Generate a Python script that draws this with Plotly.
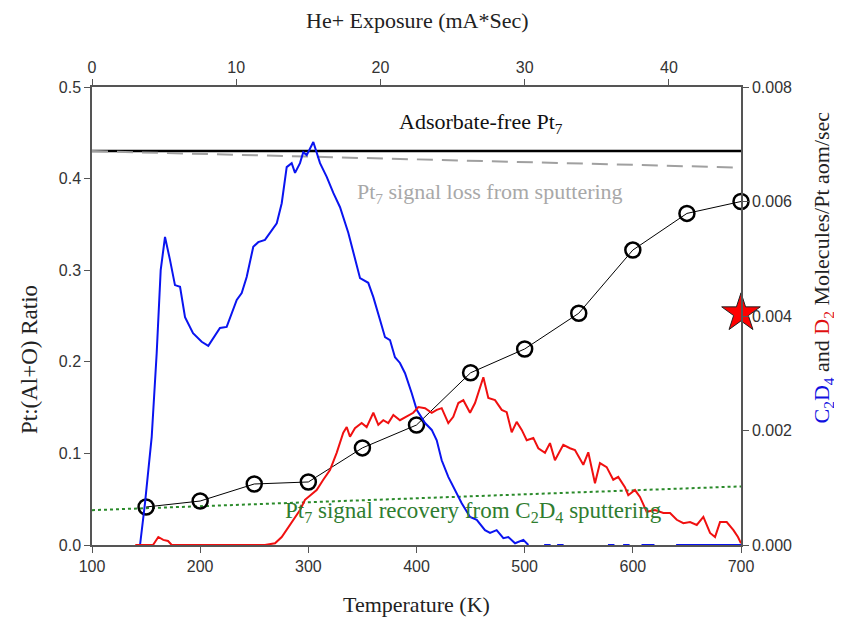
import plotly.graph_objects as go

# Pt:(Al+O) ratio vs temperature (left axis)
temp_pts = [150, 200, 250, 300, 350, 400, 450, 500, 550, 600, 650, 700]
ratio_pts = [0.0415, 0.048, 0.0666, 0.0688, 0.106, 0.131, 0.188, 0.214, 0.253, 0.322, 0.362, 0.375]

# C2D4 desorption signal (right axis, molecules/Pt atom/sec)
blue_t = [144.4, 149.0, 155.2, 159.8, 163.5, 167.5, 172.1, 176.7, 181.4, 186.0, 193.4,
          201.4, 207.5, 213.7, 218.3, 224.5, 229.2, 233.8, 238.4, 243.0, 249.1, 253.7,
          259.9, 266.1, 270.8, 275.4, 280.0, 284.6, 287.7, 292.3, 295.3, 298.5, 304.6,
          310.8, 317.0, 323.1, 329.3, 337.0, 343.1, 347.8, 355.4, 360.1, 366.3, 370.9,
          375.5, 380.1, 384.7, 389.4, 395.6, 400.2, 407.9, 414.1, 418.7, 423.3, 429.4,
          435.6, 441.8, 449.5, 455.7, 463.3, 468.0, 474.1, 480.3, 484.9, 491.1, 498.8,
          503.4, 510, 518, 524, 527, 530, 536, 540, 577, 583, 587, 591, 597, 603, 608,
          620, 625, 640, 700]
blue_v = [0, 0.73, 1.89, 3.35, 4.80, 5.38, 4.98, 4.54, 4.51, 3.98, 3.70,
          3.55, 3.48, 3.67, 3.79, 3.81, 4.05, 4.28, 4.40, 4.68, 5.21, 5.29,
          5.33, 5.50, 5.62, 5.97, 6.60, 6.67, 6.50, 6.67, 6.86, 6.81, 7.04,
          6.67, 6.43, 6.15, 5.90, 5.45, 4.98, 4.66, 4.58, 4.33, 3.93, 3.63,
          3.58, 3.28, 3.18, 3.00, 2.65, 2.36, 2.13, 2.01, 1.83, 1.48, 1.19,
          0.96, 0.73, 0.49, 0.44, 0.26, 0.21, 0.26, 0.12, 0.14, 0.03, 0.09,
          0, None, 0, 0, None, 0, 0, None, 0, 0, None, 0, 0, None, 0,
          0, None, 0, 0]
blue_v = [None if v is None else v * 1e-3 for v in blue_v]

# D2 desorption signal (right axis)
red_t = [140, 156.4, 161.3, 165.9, 170.3, 173.7, 259.9, 269.2, 275.4, 281.5, 287.7,
         292.3, 296.9, 301.5, 307.7, 313.8, 320.0, 326.2, 332.3, 335.5, 338.5, 343.1,
         349.3, 353.9, 360.1, 364.7, 369.3, 373.9, 378.6, 384.7, 390.9, 397.0, 401.7,
         407.9, 414.1, 418.7, 423.3, 429.4, 434.0, 438.7, 443.3, 449.5, 454.1, 458.7,
         461.8, 466.4, 472.6, 478.8, 483.4, 488.0, 492.6, 497.3, 501.9, 508.0, 512.6,
         518.8, 523.4, 528.0, 535.7, 541.9, 546.5, 554.2, 558.8, 565.0, 569.6, 575.8,
         581.9, 586.5, 592.7, 595.8, 602.0, 606.6, 612.8, 620.5, 628.2, 634.4, 640.6,
         646.7, 652.9, 659.1, 665.2, 671.4, 676.0, 680.6, 686.8, 693.0, 697.2, 700]
red_v = [0, 0, 0.14, 0.09, 0.07, 0, 0, 0.03, 0.14, 0.31, 0.49,
         0.61, 0.79, 0.87, 0.96, 1.14, 1.31, 1.61, 1.96, 2.06, 1.89, 2.04,
         2.13, 2.06, 2.31, 2.10, 2.18, 2.13, 2.27, 2.18, 2.24, 2.31, 2.41,
         2.39, 2.31, 2.36, 2.39, 2.13, 2.24, 2.48, 2.53, 2.31, 2.48, 2.76,
         2.93, 2.57, 2.53, 2.36, 2.32, 1.97, 2.15, 2.01, 1.83, 1.87, 1.69,
         1.61, 1.78, 1.48, 1.75, 1.69, 1.66, 1.40, 1.62, 1.08, 1.43, 1.36,
         1.14, 1.19, 1.01, 0.87, 0.96, 0.84, 0.58, 0.61, 0.56, 0.56, 0.44,
         0.38, 0.40, 0.35, 0.49, 0.21, 0.14, 0.40, 0.40, 0.26, 0.14, 0.03]
red_v = [v * 1e-3 for v in red_v]

# reference lines (left axis)
line_t = [100, 700]
clean_pt7 = [0.43, 0.43]
sputter_loss = [0.43, 0.412]
recovery = [0.038, 0.064]

star_t = [700]
star_v = [0.00405]

serif = "Liberation Serif, Times New Roman, serif"
sans = "Liberation Sans, Arial, sans-serif"

fig = go.Figure()

fig.add_trace(go.Scatter(x=line_t, y=clean_pt7, mode="lines",
                         line=dict(color="black", width=2.5)))
fig.add_trace(go.Scatter(x=line_t, y=sputter_loss, mode="lines",
                         line=dict(color="#a0a0a0", width=2, dash="16px,9px")))
fig.add_trace(go.Scatter(x=line_t, y=recovery, mode="lines",
                         line=dict(color="#2a8a2a", width=2, dash="dot")))

fig.add_trace(go.Scatter(x=blue_t, y=blue_v, yaxis="y2", mode="lines",
                         line=dict(color="#0a14f0", width=2)))
fig.add_trace(go.Scatter(x=red_t, y=red_v, yaxis="y2", mode="lines",
                         line=dict(color="#f01010", width=2)))

fig.add_trace(go.Scatter(x=temp_pts, y=ratio_pts, mode="lines+markers",
                         line=dict(color="black", width=1),
                         marker=dict(symbol="circle-open", size=15, color="black",
                                     line=dict(width=2.5, color="black")),
                         cliponaxis=False))

fig.add_trace(go.Scatter(x=star_t, y=star_v, yaxis="y2", mode="markers",
                         marker=dict(symbol="star", size=29, color="#ff0000",
                                     line=dict(width=1, color="#222")),
                         cliponaxis=False))

# dummy trace so the top axis is drawn
fig.add_trace(go.Scatter(x=[0, 45], y=[None, None], xaxis="x2", mode="lines",
                         hoverinfo="skip"))

axis_common = dict(showline=True, linecolor="#555", linewidth=1.5, ticks="outside",
                   ticklen=6, tickcolor="#555", showgrid=False, zeroline=False,
                   automargin=False,
                   tickfont=dict(family=sans, size=16, color="#333"))

title_font = dict(family=serif, size=22, color="#222")
centred = dict(xanchor="center", yanchor="middle", showarrow=False)

# page body adds an 8px offset, so margins are reduced by 8 on top/left
fig.update_layout(
    width=834, height=611,
    margin=dict(l=84, r=101, t=79, b=74),
    paper_bgcolor="white", plot_bgcolor="white",
    showlegend=False,
    xaxis=dict(range=[100, 700], dtick=100, **axis_common),
    xaxis2=dict(range=[0, 45], dtick=10, overlaying="x", side="top", **axis_common),
    yaxis=dict(range=[0, 0.5], dtick=0.1, tickformat=".1f", **axis_common),
    yaxis2=dict(range=[0, 0.008], dtick=0.002, tickformat=".3f", overlaying="y", side="right",
                **axis_common),
    annotations=[
        # axis titles
        dict(x=0.5, y=-0.131, xref="paper", yref="paper", **centred,
             text="Temperature (K)", font=title_font),
        dict(x=0.5008, y=1.146, xref="paper", yref="paper", **centred,
             text="He+ Exposure (mA*Sec)", font=title_font),
        dict(x=-0.0955, y=0.404, xref="paper", yref="paper", **centred, textangle=-90,
             text="Pt:(Al+O) Ratio", font=dict(family=serif, size=23, color="#222")),
        dict(x=1.127, y=0.607, xref="paper", yref="paper", **centred, textangle=-90,
             text='<span style="color:#1010e0">C<sub>2</sub>D<sub>4</sub></span> and '
                  '<span style="color:#e01010">D<sub>2</sub></span> Molecules/Pt aom/sec',
             font=dict(family=serif, size=22, color="#222")),
        # in-plot labels
        dict(x=460, y=0.4607, xref="x", yref="y", **centred,
             text="Adsorbate-free Pt<sub>7</sub>", font=dict(family=serif, size=22, color="#111")),
        dict(x=468, y=0.384, xref="x", yref="y", **centred,
             text="Pt<sub>7</sub> signal loss from sputtering",
             font=dict(family=serif, size=22, color="#a8a8a8")),
        dict(x=453, y=0.036, xref="x", yref="y", **centred,
             text="Pt<sub>7</sub> signal recovery from C<sub>2</sub>D<sub>4</sub> sputtering",
             font=dict(family=serif, size=23, color="#2f7d2f")),
    ],
)

fig.write_html("out.html")
